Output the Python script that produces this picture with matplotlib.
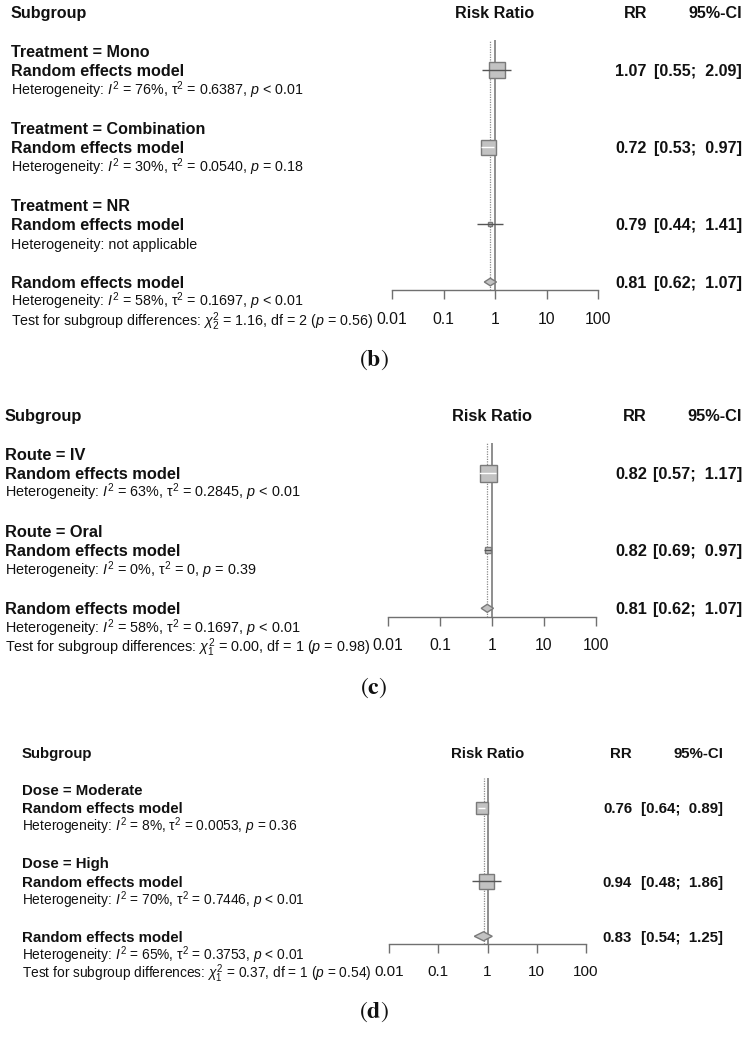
import math
import matplotlib
matplotlib.use("Agg")
import matplotlib.pyplot as plt
import matplotlib.transforms as mtransforms

W, H = 749, 1039
plt.rcParams['font.family'] = ['Liberation Sans', 'DejaVu Sans']
plt.rcParams['mathtext.fontset'] = 'custom'
plt.rcParams['mathtext.rm'] = 'Liberation Sans'
plt.rcParams['mathtext.it'] = 'Liberation Sans:italic'
plt.rcParams['mathtext.bf'] = 'Liberation Sans:bold'

# ---------------- data ----------------
tick_vals = [0.01, 0.1, 1, 10, 100]
tick_labels = ["0.01", "0.1", "1", "10", "100"]

b_groups = ["Treatment = Mono", "Treatment = Combination", "Treatment = NR"]
b_rr = [1.07, 0.72, 0.79]
b_lo = [0.55, 0.53, 0.44]
b_hi = [2.09, 0.97, 1.41]
b_het = [r"Heterogeneity: $I^2$ = 76%, $\mathrm{\tau}^2$ = 0.6387, $p$ < 0.01",
         r"Heterogeneity: $I^2$ = 30%, $\mathrm{\tau}^2$ = 0.0540, $p$ = 0.18",
         "Heterogeneity: not applicable"]
b_overall = [0.81, 0.62, 1.07]
b_overall_het = r"Heterogeneity: $I^2$ = 58%, $\mathrm{\tau}^2$ = 0.1697, $p$ < 0.01"
b_test = r"Test for subgroup differences: $\chi^2_2$ = 1.16, df = 2 ($p$ = 0.56)"

c_groups = ["Route = IV", "Route = Oral"]
c_rr = [0.82, 0.82]
c_lo = [0.57, 0.69]
c_hi = [1.17, 0.97]
c_het = [r"Heterogeneity: $I^2$ = 63%, $\mathrm{\tau}^2$ = 0.2845, $p$ < 0.01",
         r"Heterogeneity: $I^2$ = 0%, $\mathrm{\tau}^2$ = 0, $p$ = 0.39"]
c_overall = [0.81, 0.62, 1.07]
c_overall_het = r"Heterogeneity: $I^2$ = 58%, $\mathrm{\tau}^2$ = 0.1697, $p$ < 0.01"
c_test = r"Test for subgroup differences: $\chi^2_1$ = 0.00, df = 1 ($p$ = 0.98)"

d_groups = ["Dose = Moderate", "Dose = High"]
d_rr = [0.76, 0.94]
d_lo = [0.64, 0.48]
d_hi = [0.89, 1.86]
d_het = [r"Heterogeneity: $I^2$ = 8%, $\mathrm{\tau}^2$ = 0.0053, $p$ = 0.36",
         r"Heterogeneity: $I^2$ = 70%, $\mathrm{\tau}^2$ = 0.7446, $p$ < 0.01"]
d_overall = [0.83, 0.54, 1.25]
d_overall_het = r"Heterogeneity: $I^2$ = 65%, $\mathrm{\tau}^2$ = 0.3753, $p$ < 0.01"
d_test = r"Test for subgroup differences: $\chi^2_1$ = 0.37, df = 1 ($p$ = 0.54)"

# ---------------- layout / style ----------------
panels = [
    dict(groups=b_groups, rr=b_rr, lo=b_lo, hi=b_hi, het=b_het, overall=b_overall,
         ohet=b_overall_het, test=b_test, box=[16, 15, 5], label="b",
         left=11, y0=12.5, dy=19.25, x0=392, x1=598, axis=290, top=40,
         rr_r=647, ci_r=742, fpx=16.1, rpx=14.2, tpx=15.8, lab_y=360, dh=3.8),
    dict(groups=c_groups, rr=c_rr, lo=c_lo, hi=c_hi, het=c_het, overall=c_overall,
         ohet=c_overall_het, test=c_test, box=[17, 6], label="c",
         left=5, y0=415, dy=19.33, x0=388, x1=596, axis=617, top=443,
         rr_r=647, ci_r=742, fpx=16.4, rpx=14.35, tpx=15.8, lab_y=688, dh=4.0),
    dict(groups=d_groups, rr=d_rr, lo=d_lo, hi=d_hi, het=d_het, overall=d_overall,
         ohet=d_overall_het, test=d_test, box=[12, 15], label="d",
         left=22, y0=753, dy=18.33, x0=389, x1=586, axis=944, top=778,
         rr_r=632, ci_r=723, fpx=15.0, rpx=13.7, tpx=15.2, lab_y=1012, dh=4.5),
]

TXT = '#111111'
LINE = '#707070'
FILL = '#c2c2c2'
EDGE = '#7a7a7a'

fig = plt.figure(figsize=(W / 100, H / 100), dpi=100)


def fx(x):
    return x / W


def fy(y):
    return 1 - y / H


for P in panels:
    bpt = P['fpx'] * 0.72
    rpt = P['rpx'] * 0.72
    rowy = lambda k: P['y0'] + k * P['dy']

    def txt(x, k, s, bold=False, ha='left'):
        px = P['fpx'] if bold else P['rpx']
        fig.text(fx(x), fy(rowy(k) + 0.36 * px), s, fontsize=px * 0.72, ha=ha,
                 va='baseline', color=TXT, fontweight='bold' if bold else 'normal')

    ax = fig.add_axes([fx(P['x0']), fy(P['axis']), (P['x1'] - P['x0']) / W,
                       (P['axis'] - P['top']) / H])
    ax.set_xscale('log')
    ax.set_xlim(0.01, 100)
    ax.set_ylim(P['axis'], P['top'])
    ax.patch.set_alpha(0)
    for s in ['top', 'left', 'right']:
        ax.spines[s].set_visible(False)
    ax.spines['bottom'].set_color(LINE)
    ax.spines['bottom'].set_linewidth(1.0)
    ax.set_yticks([])
    ax.set_xticks(tick_vals)
    ax.set_xticklabels(tick_labels)
    ax.minorticks_off()
    n = len(P['groups'])
    test_y = rowy(4 + 4 * n)
    tl = 9
    pad_px = test_y - P['axis'] - tl - 0.55 * P['tpx']
    ax.tick_params(axis='x', direction='out', length=tl * 0.72, width=1.0, color=LINE,
                   labelsize=P['tpx'] * 0.72, labelcolor=TXT, pad=pad_px * 0.72)

    ax.axvline(1, color=LINE, lw=1.1, zorder=1)
    ax.axvline(P['overall'][0], color='#8a8a8a', lw=0.9, ls=(0, (1, 1)), zorder=1)

    # header
    txt(P['left'], 0, "Subgroup", bold=True)
    fig.text(1, fy(rowy(0) + 0.36 * P['fpx']), "Risk Ratio", fontsize=bpt, fontweight='bold',
             ha='center', va='baseline', color=TXT,
             transform=mtransforms.blended_transform_factory(ax.transData, fig.transFigure))
    txt(P['rr_r'], 0, "RR", bold=True, ha='right')
    txt(P['ci_r'], 0, "95%-CI", bold=True, ha='right')

    dec_px = (P['x1'] - P['x0']) / 4
    for i, g in enumerate(P['groups']):
        k = 2 + 4 * i
        txt(P['left'], k, g, bold=True)
        txt(P['left'], k + 1, "Random effects model", bold=True)
        txt(P['left'], k + 2, P['het'][i])
        y = rowy(k + 1)
        rr, lo, hi = P['rr'][i], P['lo'][i], P['hi'][i]
        txt(P['rr_r'], k + 1, f"{rr:.2f}", bold=True, ha='right')
        txt(P['ci_r'], k + 1, f"[{lo:.2f};  {hi:.2f}]", bold=True, ha='right')
        ax.plot([rr], [y], marker='s', ms=P['box'][i] * 0.72, mfc=FILL, mec=EDGE,
                mew=1.0, ls='none', zorder=3)
        half_dec = (P['box'][i] / 2) / dec_px
        inside = (math.log10(rr) - math.log10(lo) < half_dec) and \
                 (math.log10(hi) - math.log10(rr) < half_dec)
        ax.plot([lo, hi], [y, y], color='white' if inside else '#555555', lw=1.0,
                zorder=4, solid_capstyle='butt')

    ko = 2 + 4 * n
    txt(P['left'], ko, "Random effects model", bold=True)
    txt(P['left'], ko + 1, P['ohet'])
    txt(P['left'], ko + 2, P['test'])
    est, lo, hi = P['overall']
    y = rowy(ko)
    txt(P['rr_r'], ko, f"{est:.2f}", bold=True, ha='right')
    txt(P['ci_r'], ko, f"[{lo:.2f};  {hi:.2f}]", bold=True, ha='right')
    ax.fill([lo, est, hi, est], [y, y - P['dh'], y, y + P['dh']], facecolor=FILL,
            edgecolor=EDGE, lw=1.0, zorder=3)

    fig.text(fx(374), fy(P['lab_y']), r"$(\mathbf{" + P['label'] + r"})$",
             math_fontfamily='stix', fontsize=17, ha='center', va='center', color=TXT)

fig.savefig("out.png", dpi=100)
